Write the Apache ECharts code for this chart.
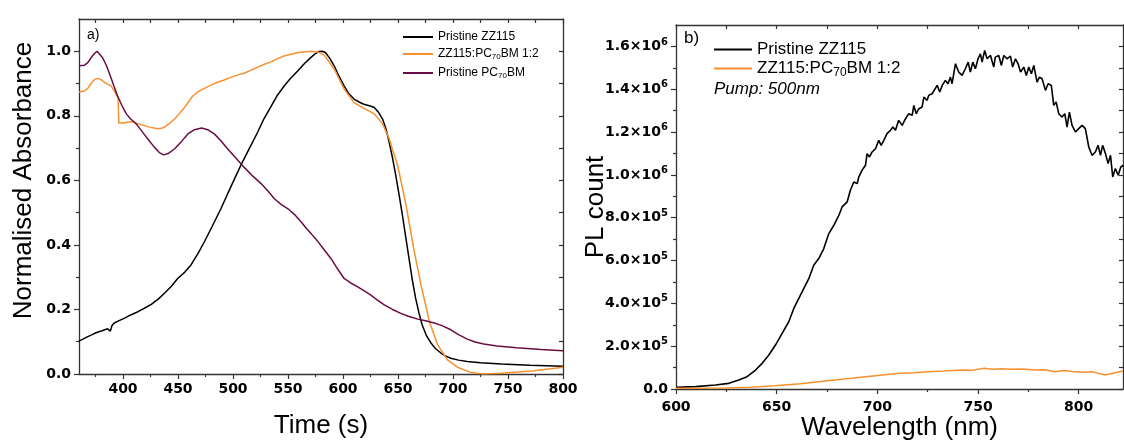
<!DOCTYPE html>
<html><head><meta charset="utf-8">
<script src="https://cdn.jsdelivr.net/npm/echarts@6/dist/echarts.min.js"></script>
<style>html,body{margin:0;padding:0;background:#fff}#c{width:1124px;height:444px}</style>
</head><body><div id="c"></div>
<script>
// ---------- data (panel a: absorbance vs time) ----------
const absBlack = [[360,0.102],[364,0.109],[368,0.116],[372,0.122],[375,0.127],[378,0.131],[381,0.134],[384,0.138],[386,0.140],[387.5,0.141],[388.5,0.133],[390,0.150],[392,0.158],[395,0.163],[401.5,0.173],[407,0.183],[413.6,0.193],[419,0.203],[425.7,0.216],[432,0.232],[437.7,0.250],[444,0.272],[449.7,0.296],[456,0.315],[461.8,0.338],[468,0.372],[473.9,0.409],[481,0.457],[489,0.512],[498,0.580],[507.3,0.648],[515,0.700],[522.4,0.749],[528,0.790],[534.6,0.829],[540,0.862],[546.7,0.893],[552,0.915],[558.8,0.939],[565,0.962],[570.9,0.981],[575,0.993],[578,0.999],[581,1.0],[584,0.996],[588,0.978],[592,0.955],[596,0.925],[601,0.893],[605,0.870],[610,0.852],[615,0.842],[619,0.836],[624,0.831],[628.5,0.826],[632,0.812],[636,0.790],[639,0.760],[642,0.718],[645,0.670],[648,0.615],[651,0.555],[654,0.492],[657,0.425],[660,0.358],[663,0.292],[666,0.235],[669,0.190],[672,0.152],[676,0.118],[680,0.096],[684,0.079],[689,0.065],[693,0.056],[698,0.049],[705,0.043],[713,0.039],[725,0.035],[744,0.031],[770,0.027],[800,0.024]];
const absBlend = [[360,0.874],[365,0.877],[368,0.885],[371,0.901],[374,0.912],[377,0.916],[380,0.912],[383,0.904],[386,0.898],[389,0.893],[392,0.878],[394,0.864],[395.5,0.856],[396.2,0.778],[401,0.778],[405,0.781],[409,0.782],[413,0.776],[417,0.772],[421,0.768],[424,0.765],[428,0.762],[432,0.760],[436,0.762],[438,0.766],[442,0.776],[447,0.790],[451,0.806],[456,0.826],[460,0.845],[463,0.860],[468,0.874],[474,0.885],[480,0.895],[486,0.904],[492,0.911],[498,0.919],[504,0.926],[510,0.932],[516,0.941],[522,0.950],[528,0.959],[535,0.968],[541,0.978],[547,0.986],[553,0.991],[559,0.996],[565,0.998],[571,1.0],[577,0.998],[583,0.988],[592,0.945],[601,0.883],[610,0.841],[619,0.823],[628.5,0.806],[636,0.775],[642,0.728],[649.7,0.646],[657.3,0.523],[664.8,0.379],[670.9,0.276],[678.5,0.163],[686,0.091],[695,0.044],[704,0.021],[716,0.005],[728,0.0],[744,0.002],[774,0.010],[800,0.021]];
const absPC70 = [[360,0.955],[365,0.957],[368,0.965],[371,0.980],[374,0.993],[376.4,1.0],[378,0.997],[381.5,0.980],[385,0.955],[389,0.919],[392,0.890],[395,0.862],[399,0.832],[403,0.806],[407,0.790],[412,0.775],[419,0.744],[424,0.722],[428.5,0.703],[433,0.686],[437,0.679],[441,0.683],[447,0.698],[453,0.720],[459,0.744],[465,0.757],[471.5,0.762],[477,0.757],[483,0.744],[489,0.723],[495,0.698],[503,0.668],[510,0.641],[518,0.613],[525.5,0.590],[532,0.566],[537.6,0.543],[544,0.525],[550,0.512],[556,0.494],[562,0.471],[567,0.450],[571,0.435],[577,0.411],[582,0.389],[589,0.358],[595,0.326],[601,0.296],[607,0.282],[613,0.271],[619,0.258],[625,0.245],[631,0.230],[637.5,0.214],[645,0.200],[652.6,0.188],[660,0.178],[668,0.170],[675,0.165],[683,0.158],[690,0.150],[698,0.137],[705,0.122],[713,0.108],[720,0.099],[728,0.093],[740,0.087],[758,0.081],[780,0.076],[800,0.072]];

// ---------- data (panel b: PL count vs wavelength) ----------
const plBlack = [[600,7800],[609.7,10900],[619.6,18700],[626.2,26400],[631.2,42000],[635.3,57500],[639.5,88600],[642.8,119700],[646.1,158600],[649.4,205200],[652.7,259600],[656.0,314100],[658.5,376200],[661.0,422900],[663.5,469500],[666.0,516200],[668.4,578300],[670.9,609400],[673.4,656100],[675.9,726000],[678.4,764900],[680.9,811500],[682.5,850400],[685.0,873700],[686.6,928200],[688.3,967000],[690.0,959300],[690.8,990300],[692.4,1021400],[694.1,1044700],[694.9,1099200],[696.1,1083600],[697.4,1106900],[699.1,1122500],[700.7,1161400],[701.9,1138100],[703.2,1161400],[704.8,1192500],[706.5,1208000],[707.7,1223600],
[709.0,1208000],[710.6,1254700],[712.3,1231000],[714.0,1262400],[715.6,1285800],[717.3,1278000],[718.1,1324600],[719.3,1285800],[720.6,1309100],[722.2,1316800],[723.1,1363500],[724.7,1348000],[725.5,1371300],[727.2,1379000],[729.7,1417900],[731.0,1386800],[732.2,1417900],[733.8,1441200],[735.1,1425700],[736.3,1456800],[737.1,1425700],[738.8,1519000],[740.4,1480100],[742.1,1464600],[743.7,1495700],[745.1,1526700],[746.2,1480100],[747.4,1526700],[748.7,1495700],[750.0,1542300],[751.2,1565600],[752.0,1526700],[753.3,1581100],[754.5,1542300],[756.2,1557800],[757.8,1503400],[758.6,1550100],[760.3,1557800],[761.6,1511200],[762.8,1557800],[764.4,1542300],[766.1,1554700],[767.2,1503400],[768.6,1542300],[769.9,1519000],[771.1,1480100],[772.7,1503400],[774.0,1464600],[775.2,1503400],[776.5,1472300],[777.7,1511200],[779.3,1433400],[780.5,1456800],[781.8,1449000],[783.5,1394600],[784.8,1425700],[786.4,1417900],[787.6,1324600],[788.8,1340200],[790.1,1285800],[791.7,1270200],[793.1,1285800],[794.2,1223600],[795.4,1293500],[796.7,1231400],[798.4,1200300],[800.0,1215800],[801.7,1231400],[803.3,1215800],[805.0,1130300],[806.6,1091400],[808.3,1106900],[809.6,1138100],[810.8,1091400],[811.9,1138100],[813.3,1099200],[814.6,1052600],[815.8,1091400],[816.9,990300],[818.2,1029300],[819.6,998100],[820.9,1037000],[822.2,1044800]];
const plBlend = [[600,3000],[612,3500],[625,4700],[637,7800],[649,15500],[662,24900],[674,37300],[687,49700],[699,62200],[705,68000],[711.5,73100],[718,76000],[725.5,80800],[733,84000],[742,88600],[747,87000],[753,96400],[757,92000],[762,94000],[767,91700],[772,93000],[778.5,88600],[783,90000],[788,80800],[793,86000],[797,82000],[802,77700],[807,80000],[813,65300],[817,74000],[822,84000]];

// ---------- tick values ----------
const timeMajor = [400,450,500,550,600,650,700,750,800];
const timeMinor = [375,425,475,525,575,625,675,725,775];
const absMajor = [0,0.2,0.4,0.6,0.8,1.0];
const absMinor = [0.1,0.3,0.5,0.7,0.9];
const wlMajor = [600,650,700,750,800];
const wlMinor = [625,675,725,775];
const plMajor = [0,200000,400000,600000,800000,1000000,1200000,1400000,1600000];
const plMinor = [100000,300000,500000,700000,900000,1100000,1300000,1500000];

const legendNames = {
  absBlack: 'Pristine ZZ115',
  absBlend: 'ZZ115:PC{sub|70}BM 1:2',
  absPC70: 'Pristine PC{sub|70}BM',
  plBlack: 'Pristine ZZ115',
  plBlend: 'ZZ115:PC{sub|70}BM 1:2'
};

const AX = '#333';
const tickFont = {fontFamily:'DejaVu Sans', fontWeight:'bold', fontSize:14, color:'#000'};
const nameFont = {fontFamily:'Liberation Sans', fontSize:26, color:'#000'};
const sorted = a => a.slice().sort((p,q)=>p-q);

function axisSet(dim, grid, min, max, major, minor, mainPos, mirrorPos, opts) {
  const line = {show:true, onZero:false, lineStyle:{color:AX, width:1.3}};
  const main = {
    type:'value', gridIndex:grid, position:mainPos, min, max,
    axisLine: line,
    axisTick:{show:true, inside:false, length:5, customValues:major, lineStyle:{color:AX, width:1.2}},
    axisLabel:Object.assign({show:true, customValues:major, margin:opts.margin}, tickFont, opts.label||{}),
    splitLine:{show:false},
    name:opts.name, nameLocation:'middle', nameGap:opts.nameGap, nameMoveOverlap:false,
    nameTextStyle:Object.assign({}, nameFont, opts.nameStyle||{})
  };
  const minorAx = {
    type:'value', gridIndex:grid, position:mainPos, min, max,
    axisLine:{show:false},
    axisTick:{show:true, inside:false, length:3, customValues:minor, lineStyle:{color:AX, width:1.2}},
    axisLabel:{show:false}, splitLine:{show:false}
  };
  const mirror = {
    type:'value', gridIndex:grid, position:mirrorPos, min, max,
    axisLine: line,
    axisTick:{show:true, inside:true, length:4, customValues:sorted(major.concat(minor)), lineStyle:{color:AX, width:1.2}},
    axisLabel:{show:false}, splitLine:{show:false}
  };
  return [main, minorAx, mirror];
}

const plLabel = v => {
  if (v === 0) return '{b|0.0}';
  const e = Math.floor(Math.log10(v) + 1e-9);
  const m = (v / Math.pow(10, e)).toFixed(1);
  return '{b|' + m + '×10}{s|' + e + '}';
};

const xAxes = [].concat(
  axisSet('x', 0, 360, 800, timeMajor, timeMinor, 'bottom', 'top', {margin:8, name:'Time (s)', nameGap:39}),
  axisSet('x', 1, 600, 822, wlMajor, wlMinor, 'bottom', 'top', {margin:11, name:'Wavelength (nm)', nameGap:26})
);
const yAxes = [].concat(
  axisSet('y', 0, 0, 1.1, absMajor, absMinor, 'left', 'right', {margin:8, name:'Normalised Absorbance', nameGap:42,
    label:{formatter: v => v.toFixed(1)}, nameStyle:{padding:[0,0,0,32]}}),
  axisSet('y', 1, 0, 1700000, plMajor, plMinor, 'left', 'right', {margin:8, name:'PL count', nameGap:67,
    label:{formatter: plLabel, rich:{
      b:{fontFamily:'DejaVu Sans', fontWeight:'bold', fontSize:14, color:'#000'},
      s:{fontFamily:'DejaVu Sans', fontWeight:'bold', fontSize:10, color:'#000', padding:[0,0,9,0]}
    }}})
);

function mkSeries(name, data, xi, yi, color, width) {
  return {type:'line', name, data, xAxisIndex:xi, yAxisIndex:yi, symbol:'none', showSymbol:false,
    lineStyle:{color, width}, itemStyle:{color}, clip:true, animation:false, z:3};
}

function mkLegend(name, left, top, w, fs) {
  return {data:[name], left, top, orient:'horizontal', itemWidth:w, itemHeight:2, icon:'rect',
    itemGap:0, padding:0, selectedMode:false, formatter: n => legendNames[n],
    textStyle:{fontFamily:'Liberation Sans', fontSize:fs, color:'#000',
      rich:{sub:{fontFamily:'Liberation Sans', fontSize:Math.round(fs*0.68), color:'#000', padding:[Math.round(fs*0.45),0,0,0]}}}};
}

const chart = echarts.init(document.getElementById('c'), null, {renderer:'canvas'});
chart.setOption({
  animation:false,
  backgroundColor:'#fff',
  grid:[
    {left:79, top:19, width:484, height:355, outerBoundsMode:'none', containLabel:false},
    {left:676, top:25, width:447, height:364, outerBoundsMode:'none', containLabel:false}
  ],
  xAxis: xAxes,
  yAxis: yAxes,
  legend:[
    mkLegend('absBlack', 403, 31, 30, 12),
    mkLegend('absBlend', 403, 48, 30, 12),
    mkLegend('absPC70', 403, 67, 30, 12),
    mkLegend('plBlack', 714, 41, 38, 17),
    mkLegend('plBlend', 714, 60, 38, 17)
  ],
  series:[
    mkSeries('absBlack', absBlack, 0, 0, '#000000', 1.5),
    mkSeries('absBlend', absBlend, 0, 0, '#f7902f', 1.5),
    mkSeries('absPC70', absPC70, 0, 0, '#6b0d45', 1.5),
    mkSeries('plBlack', plBlack, 3, 3, '#000000', 1.6),
    mkSeries('plBlend', plBlend, 3, 3, '#f7902f', 1.5)
  ],
  graphic:[
    {type:'text', left:87, top:28, style:{text:'a)', fontFamily:'Liberation Sans', fontSize:14, fill:'#000'}},
    {type:'text', left:684, top:30, style:{text:'b)', fontFamily:'Liberation Sans', fontSize:17, fill:'#000'}},
    {type:'text', left:714, top:81, style:{text:'Pump: 500nm', fontFamily:'Liberation Sans', fontStyle:'italic', fontSize:17, fill:'#000'}}
  ]
});
</script>
</body></html>
